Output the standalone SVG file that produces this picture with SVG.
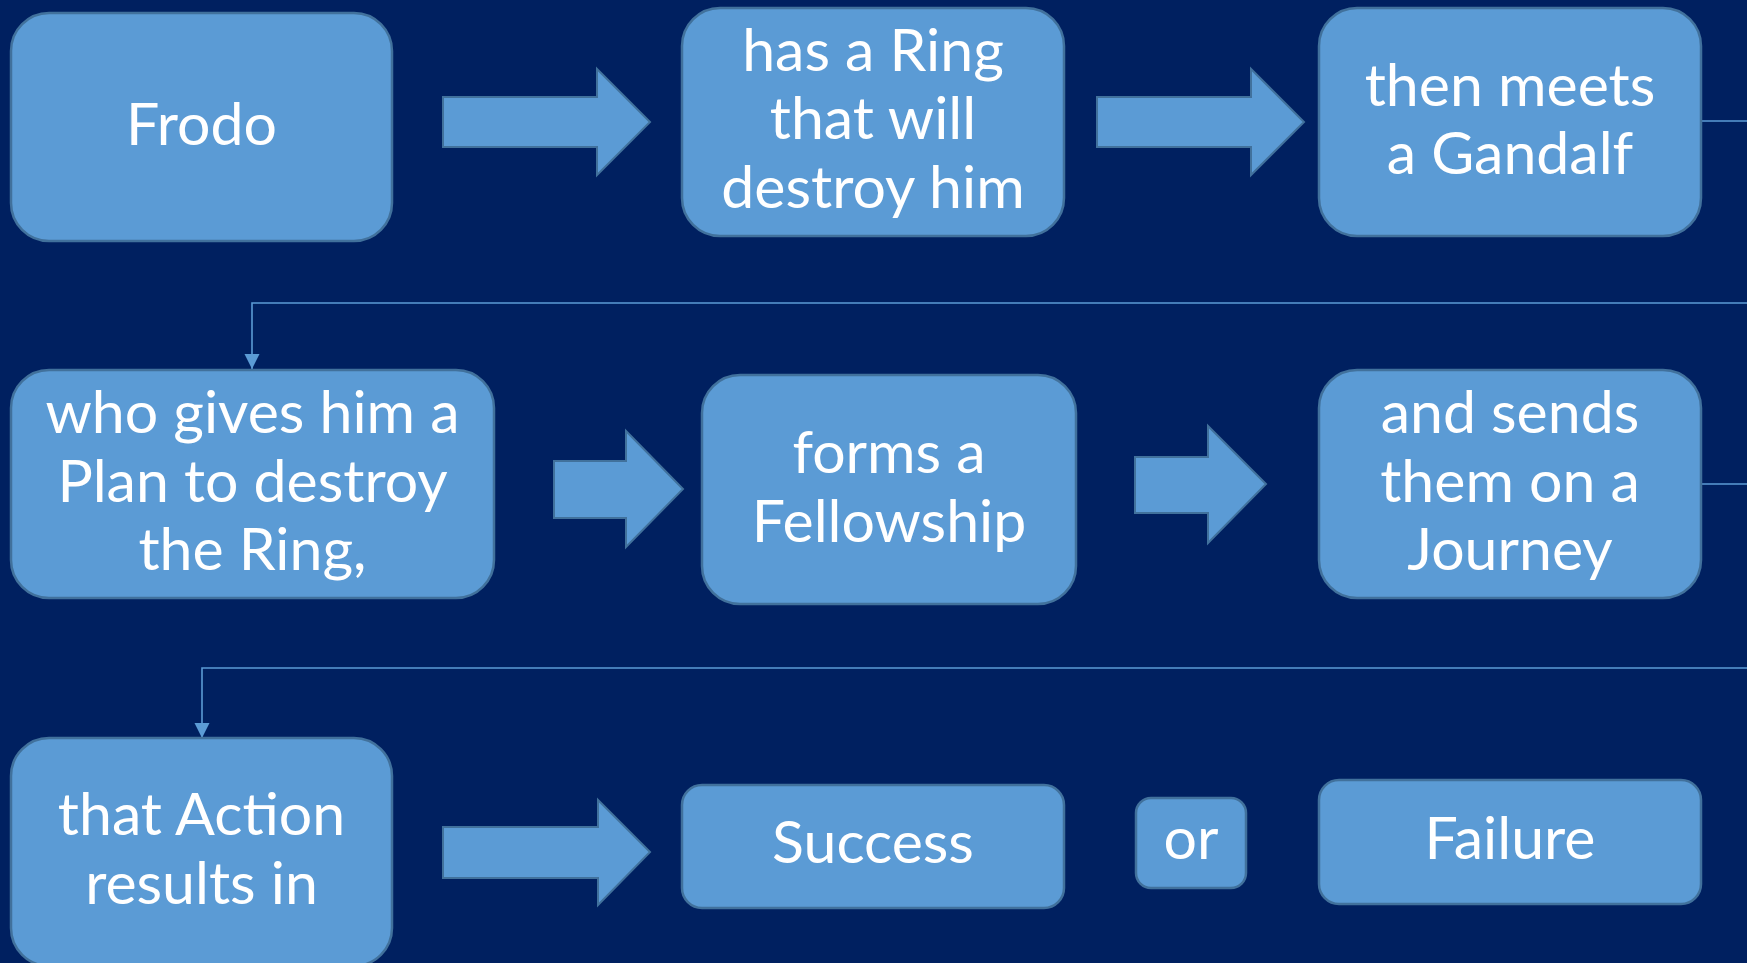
<svg xmlns="http://www.w3.org/2000/svg" width="1747" height="963" viewBox="0 0 1747 963">
<defs>
<style>
.box{fill:#5B9BD5;stroke:#41719C;stroke-width:2.5}
.blk{fill:#5B9BD5;stroke:#41719C;stroke-width:2}
.t{font-family:Lato,"Open Sans","Liberation Sans",sans-serif;font-size:59px;fill:#FFFFFF;text-anchor:middle}
.con{fill:none;stroke:#5B9BD5;stroke-width:1.6}
</style>
<marker id="ah" markerUnits="userSpaceOnUse" markerWidth="16" markerHeight="16" refX="15" refY="7.5" orient="auto">
<path d="M0,0 L15,7.5 L0,15 z" fill="#5B9BD5"/>
</marker>
</defs>
<rect x="0" y="0" width="1747" height="963" fill="#002060"/>
<g id="connectors">
<polygon class="blk" points="443,97 597,97 597,69 650,122 597,175 597,147 443,147"/>
<polygon class="blk" points="1097,97 1251,97 1251,69 1304,122 1251,175 1251,147 1097,147"/>
<polygon class="blk" points="554,461 626,461 626,431 683,489 626,547 626,518 554,518"/>
<polygon class="blk" points="1135,457 1208,457 1208,426 1266,484 1208,543 1208,513 1135,513"/>
<polygon class="blk" points="443,827 598,827 598,800 650,852 598,905 598,878 443,878"/>
<path class="con" d="M1701,121 H1770 V303 H252 V369" marker-end="url(#ah)"/>
<path class="con" d="M1701,484 H1770 V668 H202 V738" marker-end="url(#ah)"/>
</g>
<g id="n1"><rect class="box" x="11" y="13" width="381" height="228" rx="38"/><text class="t" x="201.5" y="145">Frodo</text></g>
<g id="n2"><rect class="box" x="682" y="8" width="382" height="228" rx="38"/><text class="t" x="873" y="71">has a Ring</text><text class="t" x="873" y="139">that will</text><text class="t" x="873" y="208">destroy him</text></g>
<g id="n3"><rect class="box" x="1319" y="8" width="382" height="228" rx="38"/><text class="t" x="1510" y="106">then meets</text><text class="t" x="1510" y="174">a Gandalf</text></g>
<g id="n4"><rect class="box" x="11" y="370" width="483" height="228" rx="38"/><text class="t" x="252.5" y="433">who gives him a</text><text class="t" x="252.5" y="502">Plan to destroy</text><text class="t" x="252.5" y="570">the Ring,</text></g>
<g id="n5"><rect class="box" x="702" y="375" width="374" height="229" rx="38"/><text class="t" x="889" y="473">forms a</text><text class="t" x="889" y="542">Fellowship</text></g>
<g id="n6"><rect class="box" x="1319" y="370" width="382" height="228" rx="38"/><text class="t" x="1510" y="433">and sends</text><text class="t" x="1510" y="502">them on a</text><text class="t" x="1510" y="570">Journey</text></g>
<g id="n7"><rect class="box" x="11" y="738" width="381" height="228" rx="38"/><text class="t" x="201.5" y="835">that Action</text><text class="t" x="201.5" y="904">results in</text></g>
<g id="n8"><rect class="box" x="682" y="785" width="382" height="123" rx="20"/><text class="t" x="873" y="863">Success</text></g>
<g id="n9"><rect class="box" x="1136" y="798" width="110" height="90" rx="15"/><text class="t" x="1191" y="859">or</text></g>
<g id="n10"><rect class="box" x="1319" y="780" width="382" height="124" rx="20"/><text class="t" x="1510" y="859">Failure</text></g>
</svg>
